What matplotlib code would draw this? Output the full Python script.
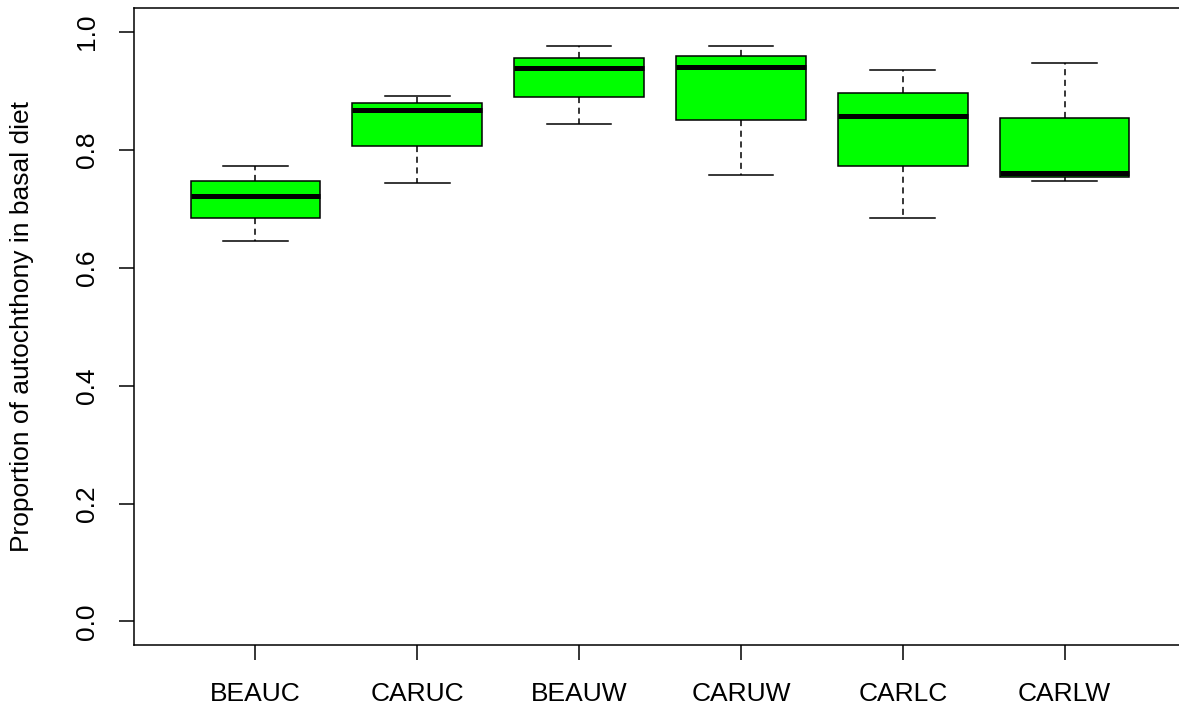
import matplotlib
matplotlib.use("Agg")
import matplotlib.pyplot as plt

plt.rcParams['font.family'] = ['Liberation Sans', 'DejaVu Sans']

# five-number summaries
groups = ['BEAUC', 'CARUC', 'BEAUW', 'CARUW', 'CARLC', 'CARLW']
whislo = [0.646, 0.744, 0.843, 0.758, 0.685, 0.747]
q1 = [0.685, 0.806, 0.890, 0.851, 0.772, 0.753]
med = [0.722, 0.868, 0.939, 0.941, 0.857, 0.761]
q3 = [0.747, 0.879, 0.956, 0.959, 0.896, 0.854]
whishi = [0.773, 0.891, 0.976, 0.976, 0.935, 0.947]
yticks = [0.0, 0.2, 0.4, 0.6, 0.8, 1.0]

stats = []
for i, g in enumerate(groups):
    stats.append(dict(label=g, whislo=whislo[i], q1=q1[i], med=med[i],
                      q3=q3[i], whishi=whishi[i], fliers=[]))

W, H = 1179, 709
fig = plt.figure(figsize=(W / 100, H / 100), dpi=100)
ax = fig.add_axes([134 / W, (H - 645) / H, 1052 / W, (645 - 8.3) / H])

ax.bxp(stats, positions=range(1, 7), widths=0.8, patch_artist=True,
       showfliers=False,
       boxprops=dict(facecolor='#00ff00', edgecolor='black', linewidth=1.1),
       medianprops=dict(color='black', linewidth=3.6, solid_capstyle='butt'),
       whiskerprops=dict(color='black', linewidth=1.1, linestyle=(0, (4, 3))),
       capprops=dict(color='black', linewidth=1.1),
       capwidths=0.4)

ax.set_xlim(0.25, 6.75)
ax.set_ylim(-0.04, 1.04)
ax.set_yticks(yticks)
ax.set_yticklabels([f'{v:.1f}' for v in yticks], rotation=90, va='center')
ax.set_xticks(range(1, 7))
ax.set_xticklabels(groups)
ax.tick_params(axis='both', length=11, width=1.1, labelsize=19, color='black')
ax.tick_params(axis='x', pad=15.5)
ax.tick_params(axis='y', pad=14)
for s in ax.spines.values():
    s.set_linewidth(1.1)
ax.set_ylabel('Proportion of autochthony in basal diet', fontsize=19, labelpad=30)

fig.savefig('out.png', dpi=100)
